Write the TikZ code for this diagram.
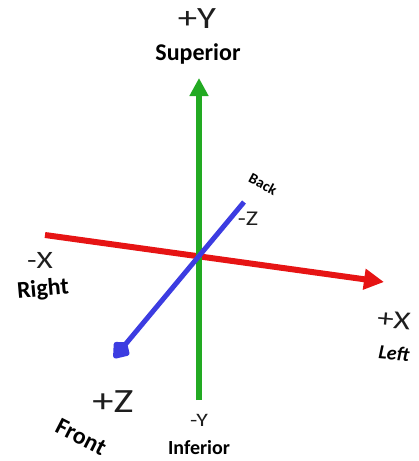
\documentclass[tikz,border=0pt]{standalone}
\usepackage{fontspec}
\setmainfont{Carlito}
\newfontfamily\widefont[FakeStretch=1.25]{Carlito}
\usetikzlibrary{arrows.meta}
\definecolor{axgreen}{RGB}{34,170,34}
\definecolor{axred}{RGB}{230,20,20}
\definecolor{axblue}{RGB}{60,60,225}
\definecolor{txt}{RGB}{30,30,30}
\tikzset{
  axis/.style={line width=6pt},
  sign/.style={text=txt,inner sep=0pt,font=\widefont\fontsize{31}{32}\selectfont},
  bigsign/.style={text=txt,inner sep=0pt,font=\widefont\fontsize{34}{36}\selectfont},
  smallsign/.style={text=txt,inner sep=0pt,font=\widefont\fontsize{21}{22}\selectfont},
  word/.style={text=black,inner sep=0pt,font=\bfseries\fontsize{24}{25}\selectfont},
  smallword/.style={text=black,inner sep=0pt,font=\bfseries\fontsize{15}{17}\selectfont}
}
\begin{document}
\begin{tikzpicture}[x=1pt,y=-1pt]
\useasboundingbox (0,0) rectangle (419,461);
\coordinate (ytop) at (199,78);
\coordinate (ybot) at (199,400);
\coordinate (xneg) at (45,235);
\coordinate (xpos) at (384,282);
\coordinate (zneg) at (244,202);
\coordinate (zpos) at (114,358);
\draw[axis,axred,-{Triangle[width=20pt,length=20pt]}] (xneg) -- (xpos);
\draw[axis,axgreen,-{Triangle[width=18pt,length=18pt]}] (ybot) -- (ytop);
\draw[axis,line width=5pt,axblue,-{Kite[width=21pt,length=22pt,inset=8pt,round]}] (zneg) -- (zpos);
\node[sign] (py) at (197,19) {+Y};
\node[word] (sup) at (198,54) {Superior};
\node[sign,font=\widefont\fontsize{25}{26}\selectfont] (nx) at (40,260) {-X};
\node[word,rotate=5] (right) at (43,290) {Right};
\node[sign,rotate=-5,font=\widefont\fontsize{26}{27}\selectfont] (px) at (394,320) {+X};
\node[word,font=\bfseries\itshape\fontsize{20}{21}\selectfont,rotate=-5] (left) at (394,353) {Left};
\node[smallword,rotate=-28] (back) at (263,184) {Back};
\node[smallsign] (nz) at (248,219) {-Z};
\node[bigsign] (pz) at (113,402) {+Z};
\node[word,rotate=-27] (front) at (81,437) {Front};
\node[smallsign,font=\widefont\fontsize{19}{20}\selectfont] (ny) at (199,420) {-Y};
\node[word,font=\bfseries\fontsize{20}{21}\selectfont] (inf) at (199,448) {Inferior};
\end{tikzpicture}
\end{document}
